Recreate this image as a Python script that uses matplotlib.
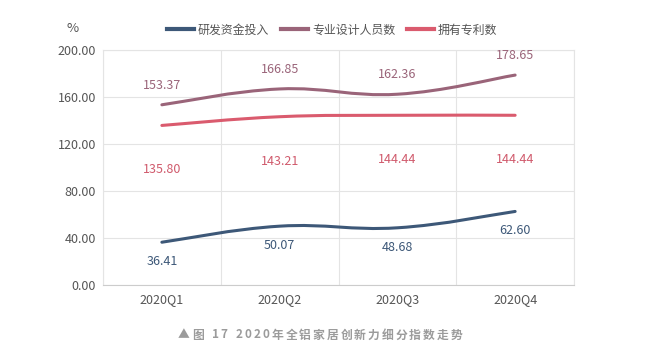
import matplotlib.pyplot as plt
from matplotlib.path import Path
from matplotlib.patches import PathPatch
from matplotlib.lines import Line2D

plt.rcParams['font.family'] = ['Noto Sans CJK SC', 'DejaVu Sans']

quarters = ['2020Q1', '2020Q2', '2020Q3', '2020Q4']
rd_funds = [36.41, 50.07, 48.68, 62.60]
designers = [153.37, 166.85, 162.36, 178.65]
patents = [135.80, 143.21, 144.44, 144.44]

names = ['研发资金投入', '专业设计人员数', '拥有专利数']
colors = ['#3d5878', '#9a6479', '#da5b6e']
label_colors = ['#3d5878', '#9a6479', '#d05a6c']
# label offset in points (negative = below)
offsets = [-14, 14, -32]
caption = '▲图 17 2020年全铝家居创新力细分指数走势'


def smooth_path(xs, ys, k=0.2):
    verts = [(xs[0], ys[0])]
    codes = [Path.MOVETO]
    n = len(xs)
    for i in range(n - 1):
        x0, y0 = (xs[i - 1], ys[i - 1]) if i > 0 else (xs[i], ys[i])
        x3, y3 = (xs[i + 2], ys[i + 2]) if i + 2 < n else (xs[i + 1], ys[i + 1])
        c1 = (xs[i] + (xs[i + 1] - x0) * k, ys[i] + (ys[i + 1] - y0) * k)
        c2 = (xs[i + 1] - (x3 - xs[i]) * k, ys[i + 1] - (y3 - ys[i]) * k)
        verts += [c1, c2, (xs[i + 1], ys[i + 1])]
        codes += [Path.CURVE4] * 3
    return Path(verts, codes)


fig = plt.figure(figsize=(6.72, 3.54), dpi=100)
ax = fig.add_axes([103 / 672, 1 - 285 / 354, 471 / 672, 235 / 354])

x = list(range(len(quarters)))
handles = []
for vals, name, c, lc, off in zip([rd_funds, designers, patents], names, colors, label_colors, offsets):
    ax.add_patch(PathPatch(smooth_path(x, vals), facecolor='none', edgecolor=c, lw=2.2, capstyle='round'))
    for xi, v in zip(x, vals):
        ax.annotate(f'{v:.2f}', (xi, v), xytext=(0, off), textcoords='offset points',
                    ha='center', va='center', fontsize=9, color=lc)
    handles.append(Line2D([], [], color=c, lw=3))

ax.set_xlim(-0.5, 3.5)
ax.set_ylim(0, 200)
ax.set_yticks(range(0, 201, 40))
ax.set_yticklabels([f'{v:.2f}' for v in range(0, 201, 40)])
ax.set_xticks(x)
ax.set_xticklabels(quarters)
ax.set_xticks([-0.5, 0.5, 1.5, 2.5, 3.5], minor=True)
ax.grid(True, which='minor', axis='x', color='#e4e4e4', lw=0.8)
ax.grid(True, which='major', axis='y', color='#e4e4e4', lw=0.8)
ax.tick_params(which='both', length=0, colors='#555555', labelsize=9)
ax.tick_params(axis='y', pad=5)
ax.tick_params(axis='x', pad=6)
for s in ax.spines.values():
    s.set_color('#e4e4e4')
ax.spines['bottom'].set_color('#cccccc')
ax.set_axisbelow(True)

fig.text(73 / 672, 1 - 28 / 354, '%', ha='center', va='center', fontsize=9.5, color='#555555')
fig.legend(handles, names, loc='center', bbox_to_anchor=(332 / 672, 1 - 30 / 354), ncol=3,
           frameon=False, fontsize=8.6, handlelength=2.3, columnspacing=1.0, handletextpad=0.3,
           labelcolor='#555555')

# caption with letter spacing, placed char by char
renderer = fig.canvas.get_renderer()
track = 2.0
widths = []
for ch in caption:
    t = fig.text(0, 0, ch if ch != ' ' else 'a', fontsize=8.5, fontweight='bold')
    w = t.get_window_extent(renderer).width
    widths.append(w * (0.6 if ch == ' ' else 1.0))
    t.remove()
total = sum(widths) + track * (len(caption) - 1)
xpos = 320 - total / 2
for ch, w in zip(caption, widths):
    fig.text(xpos / 672, 1 - 335 / 354, ch, ha='left', va='center', fontsize=8.5,
             color='#9b9b9b', fontweight='bold')
    xpos += w + track

fig.savefig('out.png', dpi=100)
